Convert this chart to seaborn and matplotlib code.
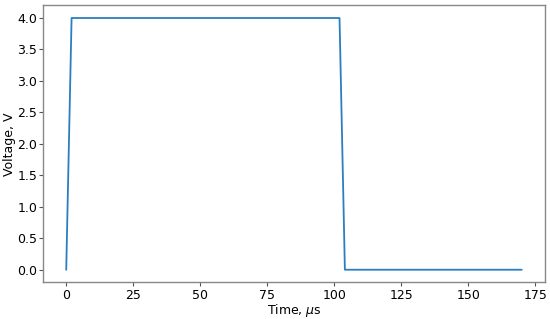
import pandas as pd
import matplotlib
matplotlib.use('Agg')
import matplotlib.pyplot as plt
import seaborn as sns

"""
Pulse data
"""
time_us = [0, 2, 102, 104, 170]
voltage = [0, 4, 4, 0, 0]

df = pd.DataFrame({'time': time_us, 'voltage': voltage})

sns.set_style('ticks')
plt.rcParams['font.family'] = ['DejaVu Sans']

fig, ax = plt.subplots(figsize=(5.5, 3.19), dpi=100)
sns.lineplot(data=df, x='time', y='voltage', ax=ax, color='#2b7fc0', linewidth=1.3, sort=False)

ax.set_xticks([0, 25, 50, 75, 100, 125, 150, 175])
ax.set_yticks([0.0, 0.5, 1.0, 1.5, 2.0, 2.5, 3.0, 3.5, 4.0])
ax.set_yticklabels(['0.0', '0.5', '1.0', '1.5', '2.0', '2.5', '3.0', '3.5', '4.0'])
ax.tick_params(labelsize=9, length=3, width=0.8, color='#555555', labelcolor='black', pad=1.5)
ax.set_xlabel('Time, $\\mu$s', fontsize=9, labelpad=0, color='black')
ax.set_ylabel('Voltage, V', fontsize=9, labelpad=1, color='black')
for s in ax.spines.values():
    s.set_visible(True)
    s.set_color('#888888')
    s.set_linewidth(1.0)

plt.subplots_adjust(left=0.079, right=0.99, top=0.983, bottom=0.115)
plt.savefig('out.png', dpi=100)
plt.close()
